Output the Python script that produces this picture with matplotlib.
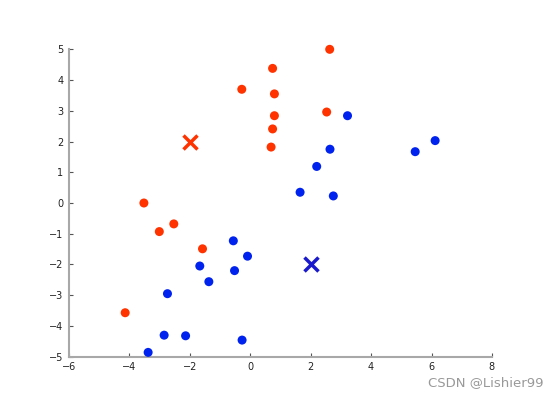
import matplotlib.pyplot as plt
import numpy as np

# grupo rojo
x_rojo = [2.63, 0.74, -0.28, 0.80, 0.80, 2.53, 0.74, 0.69, -3.52, -3.01, -2.53, -1.58, -4.14]
y_rojo = [5.00, 4.38, 3.70, 3.55, 2.84, 2.96, 2.41, 1.82, 0.00, -0.93, -0.68, -1.49, -3.57]

# grupo azul
x_azul = [3.22, 2.64, 2.20, 1.65, 2.75, 5.46, 6.12, -0.56, -0.52, -1.67, -1.37, -2.74,
          -2.85, -2.14, -3.38, -0.09, -0.27]
y_azul = [2.84, 1.75, 1.19, 0.35, 0.23, 1.67, 2.03, -1.23, -2.20, -2.05, -2.56, -2.95,
          -4.30, -4.32, -4.86, -1.73, -4.46]

# centroides
centro_rojo = [-2, 2]
centro_azul = [2, -2]

xticks = [-6, -4, -2, 0, 2, 4, 6, 8]
yticks = [-5, -4, -3, -2, -1, 0, 1, 2, 3, 4, 5]

rojo = '#ff3300'
azul = '#0022ee'

fig = plt.figure(figsize=(5.59, 4.01), dpi=100)
ax = fig.add_axes([0.1234, 0.1105, 0.7566, 0.7665])

ax.scatter(x_rojo, y_rojo, s=42, c=rojo, edgecolors='none', zorder=3, clip_on=False)
ax.scatter(x_azul, y_azul, s=42, c=azul, edgecolors='none', zorder=3, clip_on=False)
ax.plot(centro_rojo[0], centro_rojo[1], 'x', color=rojo, markersize=10, mew=2.5)
ax.plot(centro_azul[0], centro_azul[1], 'x', color='#1a1acc', markersize=10, mew=2.5)

ax.set_xlim(-6, 8)
ax.set_ylim(-5, 5)
ax.set_xticks(xticks)
ax.set_yticks(yticks)
ax.spines['top'].set_visible(False)
ax.spines['right'].set_visible(False)
ax.spines['left'].set_color('#a8a8a8')
ax.spines['bottom'].set_color('#a8a8a8')
ax.spines['left'].set_linewidth(1.5)
ax.spines['bottom'].set_linewidth(1.5)
ax.tick_params(direction='in', length=3, color='#555555', labelsize=7, labelcolor='#222222', pad=4)

fig.text(0.972, 0.03, 'CSDN @Lishier99', ha='right', va='bottom', fontsize=9.5, color='#999999')

plt.savefig('out.png', dpi=100)
